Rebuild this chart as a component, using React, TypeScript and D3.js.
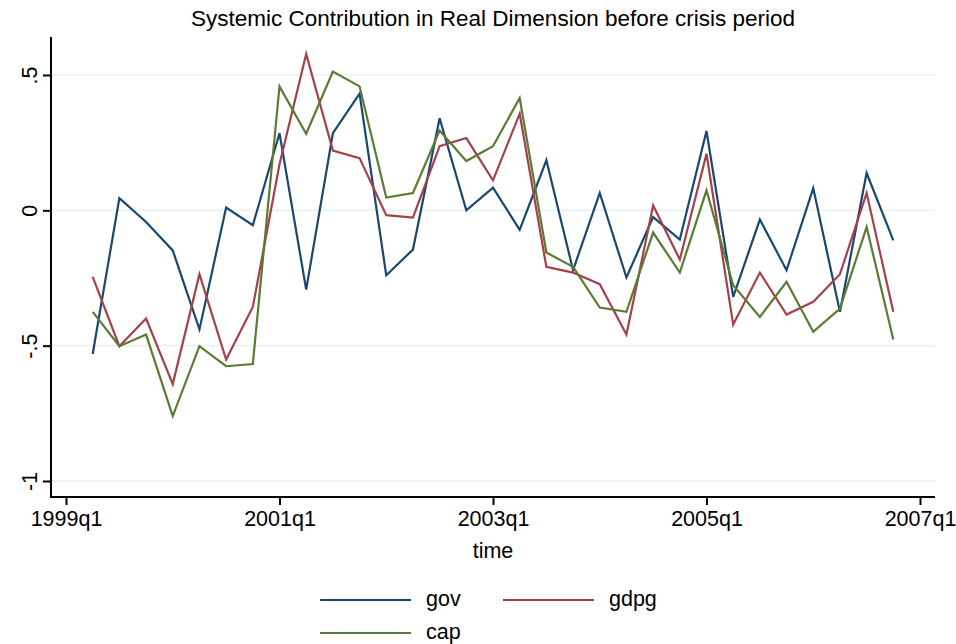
import React, { useEffect, useRef } from 'react';
import * as d3 from 'd3';

// quarters since 1999q1 (1 = 1999q2 ... 31 = 2006q4)
const quarters: number[] = d3.range(1, 32);

const gov: number[] = [
  -0.531, 0.045, -0.043, -0.148, -0.44, 0.01, -0.055, 0.285, -0.293, 0.285,
  0.431, -0.24, -0.145, 0.34, 0.0, 0.084, -0.072, 0.185, -0.221, 0.064,
  -0.248, -0.025, -0.108, 0.293, -0.32, -0.034, -0.221, 0.082, -0.375, 0.138,
  -0.111,
];

const gdpg: number[] = [
  -0.246, -0.502, -0.4, -0.642, -0.236, -0.551, -0.357, 0.17, 0.578, 0.221,
  0.193, -0.018, -0.027, 0.237, 0.267, 0.111, 0.357, -0.209, -0.23, -0.273,
  -0.459, 0.018, -0.182, 0.209, -0.422, -0.23, -0.385, -0.338, -0.236, 0.064,
  -0.375,
];

const cap: number[] = [
  -0.375, -0.502, -0.459, -0.76, -0.502, -0.576, -0.568, 0.458, 0.283, 0.513,
  0.458, 0.047, 0.064, 0.295, 0.182, 0.237, 0.415, -0.156, -0.209, -0.359,
  -0.375, -0.082, -0.23, 0.074, -0.277, -0.394, -0.264, -0.449, -0.363, -0.062,
  -0.477,
];

const xTicks: number[] = [0, 8, 16, 24, 32];
const xTickLabels: string[] = ['1999q1', '2001q1', '2003q1', '2005q1', '2007q1'];
const yTicks: number[] = [-1, -0.5, 0, 0.5];
const yTickLabels: string[] = ['-1', '-.5', '0', '.5'];

const seriesNames: string[] = ['gov', 'gdpg', 'cap'];
const seriesColors: string[] = ['#1a476f', '#a5414a', '#5a7b32'];

const App: React.FC = () => {
  const svgRef = useRef<SVGSVGElement | null>(null);

  useEffect(() => {
    if (!svgRef.current) return;

    const width = 956;
    const height = 644;
    const plotLeft = 51;
    const plotRight = 935;
    const plotTop = 37;
    const plotBottom = 497;
    const font = '"Liberation Sans", Arial, Helvetica, sans-serif';
    const fontSize = 21.5;

    const svg = d3.select(svgRef.current)
      .attr('width', width)
      .attr('height', height)
      .attr('viewBox', `0 0 ${width} ${height}`);

    svg.selectAll('*').remove();

    svg.append('rect')
      .attr('width', width)
      .attr('height', height)
      .attr('fill', '#ffffff');

    const x = d3.scaleLinear()
      .domain([0, 32])
      .range([66, 920]);

    const y = d3.scaleLinear()
      .domain([-1, 0.5])
      .range([481, 75]);

    // gridlines
    svg.append('g')
      .selectAll('line')
      .data(yTicks)
      .join('line')
      .attr('x1', plotLeft)
      .attr('x2', plotRight)
      .attr('y1', d => y(d))
      .attr('y2', d => y(d))
      .attr('stroke', '#eaf2f3')
      .attr('stroke-width', 1.6);

    // series
    const allSeries = [gov, gdpg, cap];
    const line = d3.line<number>()
      .x((_, i) => x(quarters[i]))
      .y(d => y(d));

    allSeries.forEach((s, k) => {
      svg.append('path')
        .datum(s)
        .attr('fill', 'none')
        .attr('stroke', seriesColors[k])
        .attr('stroke-width', 2.2)
        .attr('stroke-linejoin', 'miter')
        .attr('d', line);
    });

    // y axis
    const yAxis = svg.append('g')
      .attr('transform', `translate(${plotLeft},0)`)
      .call(d3.axisLeft(y).tickValues(yTicks).tickSize(8).tickSizeOuter(0)
        .tickFormat((_, i) => yTickLabels[i]));
    yAxis.select('.domain').remove();
    yAxis.append('line')
      .attr('y1', plotTop)
      .attr('y2', plotBottom + 1)
      .attr('stroke', '#000')
      .attr('stroke-width', 2);
    yAxis.selectAll('.tick line').attr('stroke-width', 2);
    yAxis.selectAll('.tick text')
      .attr('font-family', font)
      .attr('font-size', fontSize)
      .attr('fill', '#000')
      .attr('text-anchor', 'middle')
      .attr('dy', 0)
      .attr('x', 0)
      .attr('transform', 'translate(-22,0) rotate(-90) translate(0,8)');

    // x axis
    const xAxis = svg.append('g')
      .attr('transform', `translate(0,${plotBottom})`)
      .call(d3.axisBottom(x).tickValues(xTicks).tickSize(8).tickSizeOuter(0)
        .tickFormat((_, i) => xTickLabels[i]));
    xAxis.select('.domain').remove();
    xAxis.append('line')
      .attr('x1', plotLeft)
      .attr('x2', plotRight)
      .attr('stroke', '#000')
      .attr('stroke-width', 2);
    xAxis.selectAll('.tick line').attr('stroke-width', 2);
    xAxis.selectAll('.tick text')
      .attr('font-family', font)
      .attr('font-size', fontSize)
      .attr('fill', '#000')
      .attr('y', 14)
      .attr('dy', '0.71em');

    // title
    svg.append('text')
      .attr('x', 493)
      .attr('y', 26)
      .attr('text-anchor', 'middle')
      .attr('font-family', font)
      .attr('font-size', 22.5)
      .text('Systemic Contribution in Real Dimension before crisis period');

    // x axis title
    svg.append('text')
      .attr('x', 493)
      .attr('y', 558)
      .attr('text-anchor', 'middle')
      .attr('font-family', font)
      .attr('font-size', fontSize)
      .text('time');

    // legend
    const legendPos = [
      { lx: 320, ly: 600 },
      { lx: 503, ly: 600 },
      { lx: 320, ly: 633 },
    ];
    const legend = svg.append('g');
    seriesNames.forEach((name, k) => {
      const p = legendPos[k];
      legend.append('line')
        .attr('x1', p.lx)
        .attr('x2', p.lx + 91)
        .attr('y1', p.ly)
        .attr('y2', p.ly)
        .attr('stroke', seriesColors[k])
        .attr('stroke-width', 2.2);
      legend.append('text')
        .attr('x', p.lx + 106)
        .attr('y', p.ly)
        .attr('dy', '0.3em')
        .attr('font-family', font)
        .attr('font-size', fontSize)
        .text(name);
    });
  }, []);

  return (
    <svg
      ref={svgRef}
      style={{ position: 'absolute', left: 0, top: 0, display: 'block' }}
    ></svg>
  );
};

export default App;
